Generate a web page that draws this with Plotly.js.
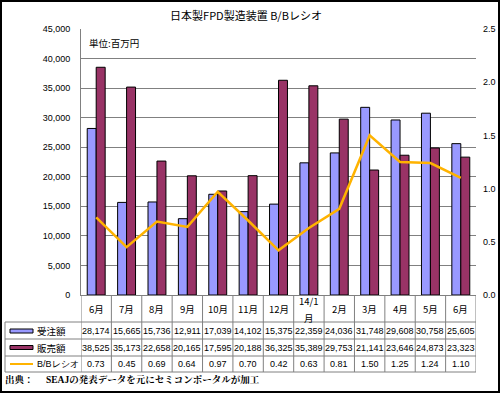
<!DOCTYPE html>
<html><head><meta charset="utf-8">
<script src="https://cdn.plot.ly/plotly-3.0.1.min.js"></script>
<style>html,body{margin:0;padding:0;background:#fff}#chart{width:500px;height:393px}</style>
</head><body><div id="chart"></div>
<script>
const months = ['6月','7月','8月','9月','10月','11月','12月','14/1<br>月','2月','3月','4月','5月','6月'];
const orders = [28174,15665,15736,12911,17039,14102,15375,22359,24036,31748,29608,30758,25605];
const sales = [38525,35173,22658,20165,17595,20188,36325,35389,29753,21141,23646,24873,23323];
const bbRatio = [0.73,0.45,0.69,0.64,0.97,0.70,0.42,0.63,0.81,1.50,1.25,1.24,1.10];
const seriesNames = ['受注額','販売額','B/Bレシオ'];

const L=81, R=476, T=29, B=295;
const W=R-L, H=B-T;
const X = px => (px-L)/W;
const Y = py => (B-py)/H;
const idx = months.map((_,i)=>i);
const GRAY='#808080';
const numFont={family:'Liberation Sans, Arial, sans-serif',size:9,color:'#000'};
const jpFont={family:'Noto Sans CJK JP, sans-serif',size:9.5,color:'#000'};

const traces=[
 {type:'bar',x:idx,y:orders,name:seriesNames[0],marker:{color:'#9999FF',line:{color:'#000',width:1}},yaxis:'y',hoverinfo:'y'},
 {type:'bar',x:idx,y:sales,name:seriesNames[1],marker:{color:'#993366',line:{color:'#000',width:1}},yaxis:'y',hoverinfo:'y'},
 {type:'scatter',mode:'lines',x:idx,y:bbRatio,name:seriesNames[2],line:{color:'#FFB300',width:2.5},yaxis:'y2',hoverinfo:'y'}
];

const shapes=[];
const ann=[];
const rowLines=[322,339,356,372];
rowLines.forEach(py=>shapes.push({type:'line',xref:'paper',yref:'paper',x0:X(5),x1:X(R),y0:Y(py),y1:Y(py),line:{color:GRAY,width:1}}));
for(let i=0;i<=months.length;i++){
  shapes.push({type:'line',xref:'x',yref:'paper',x0:i-0.5,x1:i-0.5,y0:Y(B),y1:Y(372),line:{color:GRAY,width:1}});
}
shapes.push({type:'line',xref:'paper',yref:'paper',x0:X(5),x1:X(5),y0:Y(322),y1:Y(372),line:{color:GRAY,width:1}});
// legend icons
const rowY=[331,347.5,364];
shapes.push({type:'rect',xref:'paper',yref:'paper',x0:X(10),x1:X(33),y0:Y(rowY[0]-2),y1:Y(rowY[0]+2),fillcolor:'#9999FF',line:{color:'#000',width:1}});
shapes.push({type:'rect',xref:'paper',yref:'paper',x0:X(10),x1:X(33),y0:Y(rowY[1]-2),y1:Y(rowY[1]+2),fillcolor:'#993366',line:{color:'#000',width:1}});
shapes.push({type:'line',xref:'paper',yref:'paper',x0:X(10),x1:X(33),y0:Y(rowY[2]),y1:Y(rowY[2]),line:{color:'#FFB300',width:2}});
// outer border
shapes.push({type:'rect',xref:'paper',yref:'paper',x0:X(1),x1:X(499),y0:Y(1),y1:Y(392),line:{color:'#000',width:2},fillcolor:'rgba(0,0,0,0)'});

seriesNames.forEach((n,r)=>ann.push({xref:'paper',yref:'paper',x:X(35),y:Y(rowY[r]),text:n,showarrow:false,xanchor:'left',yanchor:'middle',font:r===2?numFont:jpFont}));
months.forEach((m,i)=>{
  const parts=m.split('<br>');
  if(parts.length===1){
    ann.push({xref:'x',yref:'paper',x:i,y:Y(309),text:m,showarrow:false,xanchor:'center',yanchor:'middle',font:jpFont});
  } else {
    ann.push({xref:'x',yref:'paper',x:i,y:Y(308.5),text:parts[0],showarrow:false,xanchor:'center',yanchor:'bottom',borderpad:0,font:jpFont});
    ann.push({xref:'x',yref:'paper',x:i,y:Y(309.5),text:parts[1],showarrow:false,xanchor:'center',yanchor:'top',borderpad:0,font:jpFont});
  }
  ann.push({xref:'x',yref:'paper',x:i,y:Y(rowY[0]),text:orders[i].toLocaleString('en-US'),showarrow:false,yanchor:'middle',font:numFont});
  ann.push({xref:'x',yref:'paper',x:i,y:Y(rowY[1]),text:sales[i].toLocaleString('en-US'),showarrow:false,yanchor:'middle',font:numFont});
  ann.push({xref:'x',yref:'paper',x:i,y:Y(rowY[2]),text:bbRatio[i].toFixed(2),showarrow:false,yanchor:'middle',font:numFont});
});
ann.push({xref:'paper',yref:'paper',x:X(87),y:Y(43),text:'単位:百万円',showarrow:false,xanchor:'left',yanchor:'middle',font:jpFont});
const srcFont={family:'Liberation Serif, Noto Serif CJK JP, Noto Sans CJK JP, serif',size:9.5,color:'#000'};
ann.push({xref:'paper',yref:'paper',x:X(3),y:Y(379.5),text:'<b>出典：</b>',showarrow:false,xanchor:'left',yanchor:'middle',font:srcFont});
ann.push({xref:'paper',yref:'paper',x:X(44),y:Y(379.5),text:'<b>SEAJの発表データを元にセミコンポータルが加工</b>',showarrow:false,xanchor:'left',yanchor:'middle',font:srcFont});

const layout={
 width:500,height:393,
 margin:{l:L,r:500-R,t:T,b:393-B,pad:0},
 paper_bgcolor:'#fff',plot_bgcolor:'#fff',
 showlegend:false,
 barmode:'group',bargap:0.41,bargroupgap:0,
 title:{text:'日本製FPD製造装置 B/Bレシオ',x:0.492,xanchor:'center',y:1-16/393,yanchor:'middle',font:{family:'Noto Sans CJK JP, sans-serif',size:11,color:'#000'}},
 xaxis:{range:[-0.5,12.5],showticklabels:false,ticks:'',showgrid:false,zeroline:false,showline:true,linecolor:GRAY,linewidth:1,fixedrange:true},
 yaxis:{range:[0,45000],dtick:5000,tickformat:',',showgrid:true,gridcolor:GRAY,gridwidth:1,zeroline:false,showline:true,linecolor:GRAY,linewidth:1,ticks:'',ticklabelstandoff:8,tickfont:numFont,fixedrange:true},
 yaxis2:{range:[0,2.5],dtick:0.5,tickformat:'.1f',overlaying:'y',side:'right',showgrid:false,zeroline:false,showline:false,ticks:'',ticklabelstandoff:6,tickfont:numFont,fixedrange:true},
 shapes:shapes,annotations:ann
};
Plotly.newPlot('chart',traces,layout,{staticPlot:true});
</script></body></html>
